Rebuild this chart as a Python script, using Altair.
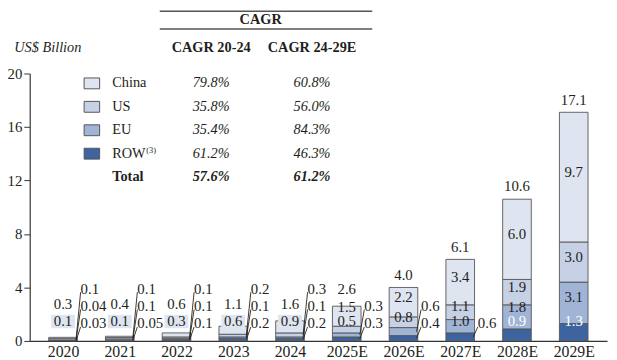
import json
import altair as alt
import pandas as pd

# ---------------- data ----------------
years = ["2020", "2021", "2022", "2023", "2024", "2025E", "2026E", "2027E", "2028E", "2029E"]
china = [0.1, 0.1, 0.3, 0.6, 0.9, 1.5, 2.2, 3.4, 6.0, 9.7]
us = [0.1, 0.1, 0.1, 0.2, 0.3, 0.5, 0.8, 1.1, 1.9, 3.0]
eu = [0.04, 0.1, 0.1, 0.1, 0.1, 0.3, 0.6, 1.0, 1.8, 3.1]
row = [0.03, 0.05, 0.1, 0.2, 0.2, 0.3, 0.4, 0.6, 0.9, 1.3]
totals = [0.3, 0.4, 0.6, 1.1, 1.6, 2.6, 4.0, 6.1, 10.6, 17.1]
# how many segment labels (counted from the top) sit inside each bar
n_inner = [1, 1, 1, 1, 1, 2, 2, 3, 4, 4]

regions = ["China", "US", "EU", "ROW"]
region_colors = ["#dfe5f0", "#c6d1e6", "#a0b4d6", "#3d649f"]
cagr_20_24 = ["79.8%", "35.8%", "35.4%", "61.2%"]
cagr_24_29 = ["60.8%", "56.0%", "84.3%", "46.3%"]
total_cagr_20_24 = "57.6%"
total_cagr_24_29 = "61.2%"

# ---------------- styling / layout ----------------
FONT = "Liberation Serif, Times New Roman, serif"
TXT = "#231f20"
FS = 15
TFS = 14.5
W, H = 585, 271
XMIN, XMAX = -0.5, 9.5
YMAX = 20

def px_x(p):  # plot pixel -> x data unit
    return XMIN + p * (XMAX - XMIN) / W

def px_y(p):  # plot pixel (from top) -> y data unit
    return YMAX - p * YMAX / H

xs = alt.Scale(domain=[XMIN, XMAX], nice=False, zero=False)
ys = alt.Scale(domain=[0, YMAX], nice=False)

def X(f):
    return alt.X(f, type="quantitative", scale=xs, title=None)

def Y(f):
    return alt.Y(f, type="quantitative", scale=ys, title=None)

def fmt(v):
    return f"{v:.2f}" if abs(round(v, 1) - v) > 1e-9 else f"{v:.1f}"

series = {"China": china, "US": us, "EU": eu, "ROW": row}
stack_order = ["ROW", "EU", "US", "China"]

bar_rows, inner_rows, side_rows, lead_rows, total_rows, box_rows = [], [], [], [], [], []
for i, yr in enumerate(years):
    base = 0.0
    segs = []
    for r in stack_order:
        v = series[r][i]
        segs.append((r, base, base + v, v))
        bar_rows.append(dict(idx=i, region=r, y0=base, y1=base + v))
        base += v
    k = n_inner[i]
    inner = segs[len(segs) - k:]
    side = segs[:len(segs) - k]
    prev = None
    top_label = 0
    for r, a, b, v in inner:
        ly = (a + b) / 2 + 0.4
        ly = max(ly, 1.45 if prev is None else prev + 1.1)
        prev = ly
        top_label = ly
        inner_rows.append(dict(x=i, y=ly, t=fmt(v), c="white" if r == "ROW" else TXT))
        if k == 1:
            box_rows.append(dict(x0=i - 0.21, x1=i + 0.21, y0=ly - 0.5, y1=ly + 0.5))
    for lvl, (r, a, b, v) in enumerate(side):
        ly = 1.3 + 1.3 * lvl
        side_rows.append(dict(x=i + 0.31, y=ly, t=fmt(v)))
        lead_rows.append(dict(x0=i + 0.23, y0=(a + b) / 2, x1=i + 0.31, y1=ly - 0.25))
    total_rows.append(dict(x=i, y=max(totals[i] + 0.95, top_label + 1.3), t=fmt(totals[i])))

bars_df = pd.DataFrame(bar_rows)

bars = alt.Chart(bars_df).mark_bar(size=29, stroke="#555555", strokeWidth=0.9).encode(
    x=alt.X("idx:Q", scale=xs, axis=alt.Axis(
        values=list(range(len(years))), labelExpr=f"{json.dumps(years)}[datum.value]",
        ticks=False, grid=False, title=None, labelFont=FONT, labelFontSize=16,
        labelColor=TXT, labelPadding=3, domainColor="#333333", domainWidth=1.2,
        labelFlush=False, labelOverlap=False)),
    y=alt.Y("y0:Q", scale=ys, axis=alt.Axis(
        values=[0, 4, 8, 12, 16, 20], title=None, grid=False, tickSize=6,
        tickColor="#333333", domainColor="#333333", domainWidth=1.2, labelFont=FONT,
        labelFontSize=15, labelColor=TXT, labelPadding=2)),
    y2="y1:Q",
    fill=alt.Fill("region:N", scale=alt.Scale(domain=regions, range=region_colors), legend=None),
)

boxes = alt.Chart(pd.DataFrame(box_rows)).mark_rect(fill=region_colors[0]).encode(
    x=X("x0"), x2="x1", y=Y("y0"), y2="y1")

inner_txt = alt.Chart(pd.DataFrame(inner_rows)).mark_text(
    font=FONT, fontSize=FS, baseline="middle", align="center").encode(
    x=X("x"), y=Y("y"), text="t:N", color=alt.Color("c:N", scale=None))

leads = alt.Chart(pd.DataFrame(lead_rows)).mark_rule(color="#222222", strokeWidth=0.9).encode(
    x=X("x0"), y=Y("y0"), x2="x1", y2="y1")

side_txt = alt.Chart(pd.DataFrame(side_rows)).mark_text(
    font=FONT, fontSize=FS, baseline="middle", align="left", color=TXT).encode(
    x=X("x"), y=Y("y"), text="t:N")

total_txt = alt.Chart(pd.DataFrame(total_rows)).mark_text(
    font=FONT, fontSize=FS, baseline="middle", align="center", color=TXT).encode(
    x=X("x"), y=Y("y"), text="t:N")

# ---------------- CAGR table / legend ----------------
row_px = [10 + 23.75 * k for k in range(5)]
sw_l, sw_r, name_x, c1_x, c2_x = 51, 67, 80, 182, 286
sw = pd.DataFrame(dict(
    x0=[px_x(sw_l)] * 4, x1=[px_x(sw_r)] * 4,
    y0=[px_y(p - 5.5) for p in row_px[:4]], y1=[px_y(p + 5.5) for p in row_px[:4]],
    region=regions))
swatches = alt.Chart(sw).mark_rect(stroke="#555555", strokeWidth=1).encode(
    x=X("x0"), x2="x1", y=Y("y0"), y2="y1",
    fill=alt.Fill("region:N", scale=alt.Scale(domain=regions, range=region_colors), legend=None))

names = alt.Chart(pd.DataFrame(dict(
    x=[px_x(name_x)] * 4, y=[px_y(p) for p in row_px[:4]], t=regions))).mark_text(
    font=FONT, fontSize=TFS, align="left", baseline="middle", color=TXT).encode(
    x=X("x"), y=Y("y"), text="t:N")

sup = alt.Chart(pd.DataFrame(dict(x=[px_x(name_x + 35)], y=[px_y(row_px[3] - 4)], t=["(3)"]))).mark_text(
    font=FONT, fontSize=8.5, align="left", baseline="middle", color=TXT).encode(
    x=X("x"), y=Y("y"), text="t:N")

total_name = alt.Chart(pd.DataFrame(dict(x=[px_x(name_x)], y=[px_y(row_px[4])], t=["Total"]))).mark_text(
    font=FONT, fontSize=TFS, fontWeight="bold", align="left", baseline="middle", color=TXT).encode(
    x=X("x"), y=Y("y"), text="t:N")

vals = alt.Chart(pd.DataFrame(dict(
    x=[px_x(c1_x)] * 4 + [px_x(c2_x)] * 4,
    y=[px_y(p) for p in row_px[:4]] * 2,
    t=cagr_20_24 + cagr_24_29))).mark_text(
    font=FONT, fontSize=TFS, fontStyle="italic", align="center", baseline="middle", color=TXT).encode(
    x=X("x"), y=Y("y"), text="t:N")

tot_vals = alt.Chart(pd.DataFrame(dict(
    x=[px_x(c1_x), px_x(c2_x)], y=[px_y(row_px[4])] * 2,
    t=[total_cagr_20_24, total_cagr_24_29]))).mark_text(
    font=FONT, fontSize=TFS, fontStyle="italic", fontWeight="bold", align="center",
    baseline="middle", color=TXT).encode(x=X("x"), y=Y("y"), text="t:N")

headers = alt.Chart(pd.DataFrame(dict(
    x=[px_x(c1_x), px_x(c2_x), px_x(233)], y=[px_y(-26), px_y(-26), px_y(-54)],
    t=["CAGR 20-24", "CAGR 24-29E", "CAGR"]))).mark_text(
    font=FONT, fontSize=TFS, fontWeight="bold", align="center", baseline="middle", color=TXT).encode(
    x=X("x"), y=Y("y"), text="t:N")

unit = alt.Chart(pd.DataFrame(dict(x=[px_x(-21)], y=[px_y(-26)], t=["US$ Billion"]))).mark_text(
    font=FONT, fontSize=TFS, fontStyle="italic", align="left", baseline="middle", color=TXT).encode(
    x=X("x"), y=Y("y"), text="t:N")

hlines = alt.Chart(pd.DataFrame(dict(
    x0=[px_x(129)] * 2, x1=[px_x(348)] * 2, y=[px_y(-63), px_y(-45)]))).mark_rule(
    color="#555555", strokeWidth=1.5).encode(x=X("x0"), x2="x1", y=Y("y"))

chart = alt.layer(
    bars, boxes, inner_txt, leads, side_txt, total_txt,
    swatches, names, sup, total_name, vals, tot_vals, headers, unit, hlines,
).properties(
    width=W, height=H,
    autosize=alt.AutoSizeParams(type="none"),
    padding={"left": 22, "top": 64, "right": 2, "bottom": 22},
).configure_view(stroke=None)

chart.save("out.html", embed_options={"renderer": "svg", "actions": False})
